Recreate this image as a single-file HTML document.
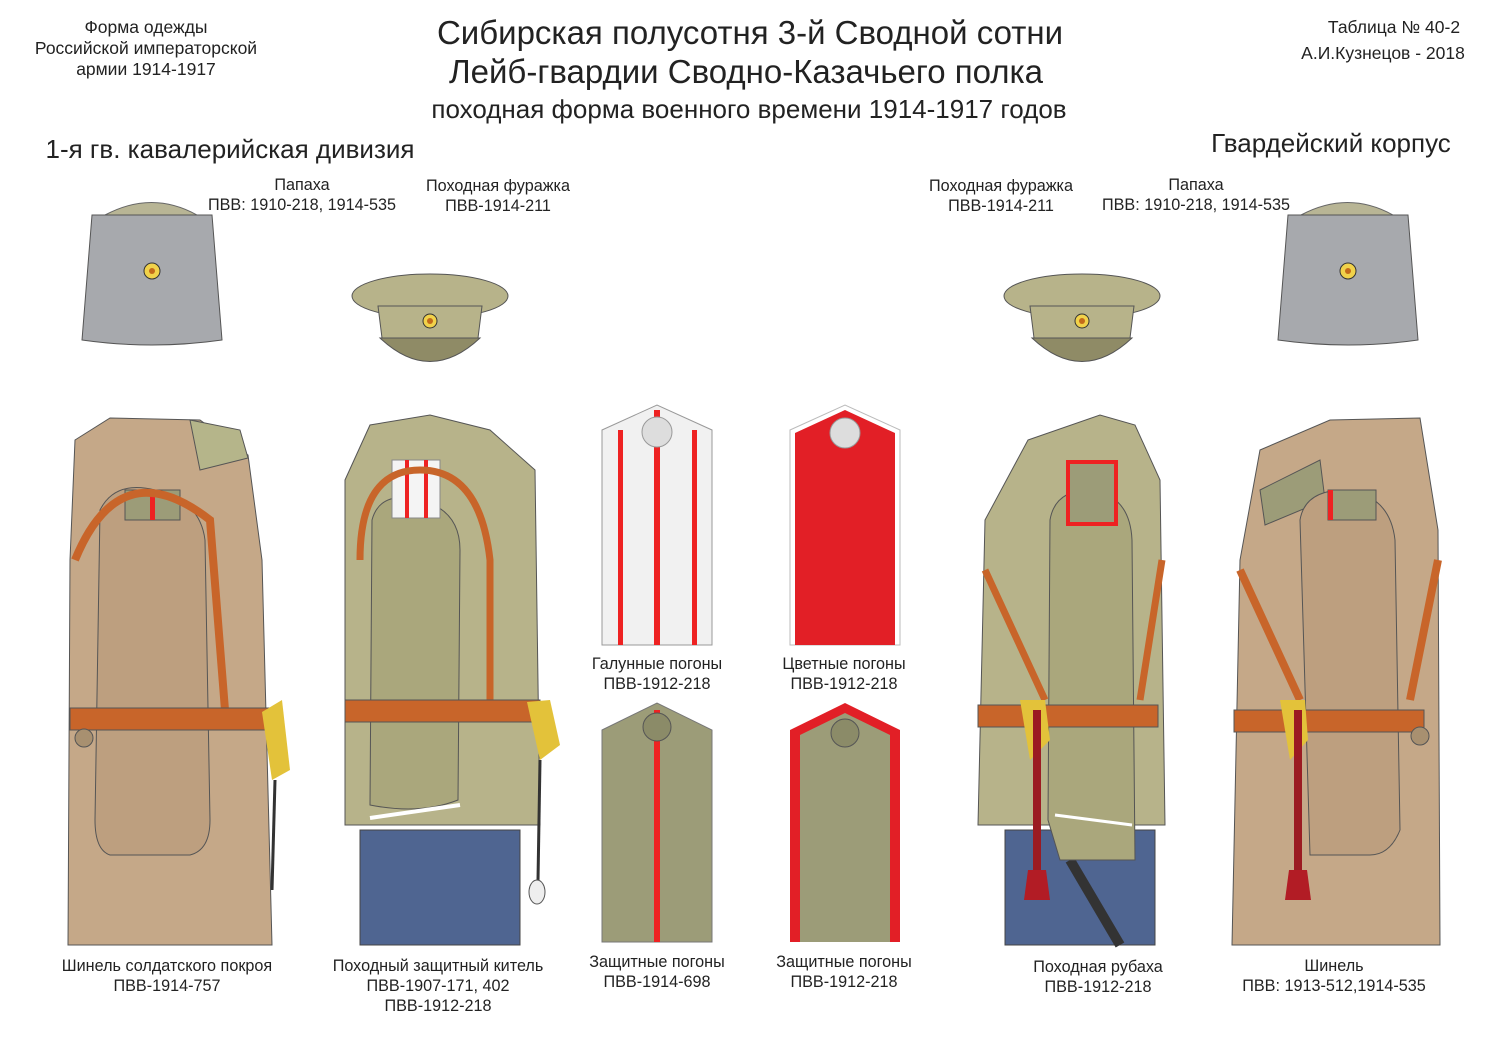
<!DOCTYPE html>
<html><head><meta charset="utf-8"><style>
html,body{margin:0;padding:0;background:#fff;}
svg{display:block;font-family:"Liberation Sans",sans-serif;}
</style></head><body>
<svg width="1500" height="1061" viewBox="0 0 1500 1061" xmlns="http://www.w3.org/2000/svg">
<rect width="1500" height="1061" fill="#fff"/>
<g fill="#222" text-anchor="middle">
<text x="146" y="33" font-size="17.5">Форма одежды</text>
<text x="146" y="54" font-size="17.5">Российской императорской</text>
<text x="146" y="75" font-size="17.5">армии  1914-1917</text>
<text x="750" y="44" font-size="33">Сибирская полусотня 3-й Сводной сотни</text>
<text x="746" y="83" font-size="33">Лейб-гвардии Сводно-Казачьего полка</text>
<text x="749" y="118" font-size="26">походная форма военного времени 1914-1917 годов</text>
<text x="1394" y="33" font-size="17.5">Таблица № 40-2</text>
<text x="1383" y="59" font-size="17.5">А.И.Кузнецов - 2018</text>
<text x="230" y="158" font-size="26">1-я гв. кавалерийская дивизия</text>
<text x="1331" y="152" font-size="26">Гвардейский корпус</text>
<g font-size="16.2">
<text x="302" y="190">Папаха</text><text x="302" y="210">ПВВ: 1910-218, 1914-535</text>
<text x="498" y="191">Походная фуражка</text><text x="498" y="211">ПВВ-1914-211</text>
<text x="1001" y="191">Походная фуражка</text><text x="1001" y="211">ПВВ-1914-211</text>
<text x="1196" y="190">Папаха</text><text x="1196" y="210">ПВВ: 1910-218, 1914-535</text>
<text x="657" y="669">Галунные погоны</text><text x="657" y="689">ПВВ-1912-218</text>
<text x="844" y="669">Цветные погоны</text><text x="844" y="689">ПВВ-1912-218</text>
<text x="657" y="967">Защитные погоны</text><text x="657" y="987">ПВВ-1914-698</text>
<text x="844" y="967">Защитные  погоны</text><text x="844" y="987">ПВВ-1912-218</text>
<text x="167" y="971">Шинель солдатского покроя</text><text x="167" y="991">ПВВ-1914-757</text>
<text x="438" y="971">Походный защитный китель</text><text x="438" y="991">ПВВ-1907-171, 402</text><text x="438" y="1011">ПВВ-1912-218</text>
<text x="1098" y="972">Походная рубаха</text><text x="1098" y="992">ПВВ-1912-218</text>
<text x="1334" y="971">Шинель</text><text x="1334" y="991">ПВВ: 1913-512,1914-535</text>
</g></g>

<!-- papakhas -->
<g id="pap">
<path d="M105 215 Q152 190 197 215 Z" fill="#b8b595" stroke="#666"/>
<path d="M92 215 L212 215 L222 340 Q152 350 82 340 Z" fill="#a7a9ad" stroke="#555"/>
<circle cx="152" cy="271" r="8" fill="#f1d24a" stroke="#333"/><circle cx="152" cy="271" r="3" fill="#c46b1a"/>
</g>
<use href="#pap" transform="translate(1196,0)"/>

<!-- caps -->
<g id="cap">
<ellipse cx="430" cy="296" rx="78" ry="22" fill="#b7b38a" stroke="#555"/>
<path d="M378 306 L482 306 L478 338 L382 338 Z" fill="#b7b38a" stroke="#555"/>
<path d="M380 338 Q430 385 480 338 Z" fill="#8f8b66" stroke="#555"/>
<circle cx="430" cy="321" r="7" fill="#f1d24a" stroke="#333"/><circle cx="430" cy="321" r="3" fill="#c46b1a"/>
</g>
<use href="#cap" transform="translate(652,0)"/>

<!-- left greatcoat -->
<path d="M75 440 L110 418 L200 420 L248 455 L262 560 L272 945 L68 945 L70 560 Z" fill="#c5a888" stroke="#555"/>
<path d="M190 420 L240 430 L248 458 L200 470 Z" fill="#b5b58a" stroke="#555"/>
<path d="M100 510 Q115 480 155 490 Q200 500 205 540 L210 820 Q210 850 190 855 L110 855 Q95 850 95 820 Z" fill="#bd9f7f" stroke="#555"/>
<rect x="125" y="490" width="55" height="30" fill="#9c9c78" stroke="#555"/>
<rect x="150" y="490" width="5" height="30" fill="#e22"/>
<path d="M75 560 Q120 450 210 520 L225 710" fill="none" stroke="#c8652a" stroke-width="8"/>
<rect x="70" y="708" width="200" height="22" fill="#c8652a" stroke="#555"/>
<path d="M262 712 L282 700 L290 770 L272 780 Z" fill="#e3c23a"/>
<line x1="275" y1="780" x2="272" y2="890" stroke="#333" stroke-width="3"/>
<circle cx="84" cy="738" r="9" fill="#a89070" stroke="#555"/>

<!-- kitel -->
<rect x="360" y="830" width="160" height="115" fill="#4f6591" stroke="#444"/>
<path d="M345 480 L370 425 L430 415 L490 430 L535 470 L540 825 L345 825 Z" fill="#b7b38a" stroke="#555"/>
<path d="M372 520 Q380 490 420 500 Q460 510 460 550 L458 800 Q420 815 370 805 Z" fill="#aaa77c" stroke="#555"/>
<rect x="392" y="460" width="48" height="58" fill="#f4f4f4" stroke="#888"/>
<rect x="405" y="460" width="4" height="58" fill="#e22"/><rect x="424" y="460" width="4" height="58" fill="#e22"/>
<path d="M360 560 Q360 470 420 470 Q480 470 490 560 L490 705" fill="none" stroke="#c8652a" stroke-width="7"/>
<rect x="345" y="700" width="195" height="22" fill="#c8652a" stroke="#555"/>
<path d="M370 818 L460 805" stroke="#fff" stroke-width="4"/>
<path d="M527 702 L550 700 L560 745 L540 760 Z" fill="#e3c23a"/>
<line x1="540" y1="760" x2="538" y2="880" stroke="#333" stroke-width="3"/>
<ellipse cx="537" cy="892" rx="8" ry="12" fill="#eee" stroke="#555"/>

<!-- pogons -->
<path d="M602 430 L657 405 L712 430 L712 645 L602 645 Z" fill="#f1f1f1" stroke="#999"/>
<rect x="618" y="430" width="5" height="215" fill="#e22"/><rect x="654" y="410" width="6" height="235" fill="#e22"/><rect x="692" y="430" width="5" height="215" fill="#e22"/>
<circle cx="657" cy="432" r="15" fill="#ddd" stroke="#999"/>
<path d="M790 430 L845 405 L900 430 L900 645 L790 645 Z" fill="#fff" stroke="#bbb"/>
<path d="M795 433 L845 410 L895 433 L895 645 L795 645 Z" fill="#e21f26"/>
<circle cx="845" cy="433" r="15" fill="#ddd" stroke="#999"/>
<path d="M602 730 L657 703 L712 730 L712 942 L602 942 Z" fill="#9c9c78" stroke="#777"/>
<rect x="654" y="710" width="6" height="232" fill="#e22"/>
<circle cx="657" cy="727" r="14" fill="#8b8b68" stroke="#555"/>
<path d="M790 730 L845 703 L900 730 L900 942 L790 942 Z" fill="#e21f26"/>
<path d="M800 735 L845 713 L890 735 L890 942 L800 942 Z" fill="#9c9c78"/>
<circle cx="845" cy="733" r="14" fill="#8b8b68" stroke="#555"/>

<!-- rubakha -->
<rect x="1005" y="830" width="150" height="115" fill="#4f6591" stroke="#444"/>
<path d="M1070 860 L1120 945" stroke="#333" stroke-width="10"/>
<path d="M1028 440 L1100 415 L1135 425 L1160 480 L1165 825 L978 825 L985 520 Z" fill="#b7b38a" stroke="#555"/>
<path d="M1050 520 Q1055 490 1090 490 Q1130 495 1132 540 L1135 860 L1060 860 L1048 820 Z" fill="#aaa77c" stroke="#555"/>
<rect x="1068" y="462" width="48" height="62" fill="#9c9c78" stroke="#e22" stroke-width="4"/>
<path d="M985 570 L1045 700 M1140 700 L1162 560" stroke="#c8652a" stroke-width="7"/>
<rect x="978" y="705" width="180" height="22" fill="#c8652a" stroke="#555"/>
<path d="M1020 700 L1045 700 L1050 740 L1030 760 Z" fill="#e3c23a"/>
<rect x="1033" y="710" width="8" height="160" fill="#9b1b22"/>
<path d="M1028 870 L1046 870 L1050 900 L1024 900 Z" fill="#b21c25"/>
<path d="M1055 815 L1132 825" stroke="#fff" stroke-width="3"/>

<!-- right shinel -->
<path d="M1260 450 L1330 420 L1420 418 L1438 530 L1440 945 L1232 945 L1240 560 Z" fill="#c5a888" stroke="#555"/>
<path d="M1260 490 L1320 460 L1325 500 L1265 525 Z" fill="#9c9c78" stroke="#555"/>
<path d="M1300 520 Q1305 490 1345 490 Q1390 495 1395 540 L1400 830 Q1390 855 1370 855 L1310 855 Z" fill="#bd9f7f" stroke="#555"/>
<rect x="1328" y="490" width="48" height="30" fill="#9c9c78" stroke="#555"/>
<rect x="1328" y="490" width="5" height="30" fill="#e22"/>
<path d="M1240 570 L1300 700 M1410 700 L1438 560" stroke="#c8652a" stroke-width="8"/>
<rect x="1234" y="710" width="190" height="22" fill="#c8652a" stroke="#555"/>
<path d="M1280 700 L1305 700 L1308 740 L1290 760 Z" fill="#e3c23a"/>
<rect x="1294" y="710" width="8" height="160" fill="#9b1b22"/>
<path d="M1289 870 L1307 870 L1311 900 L1285 900 Z" fill="#b21c25"/>
<circle cx="1420" cy="736" r="9" fill="#a89070" stroke="#555"/>
</svg>
</body></html>
